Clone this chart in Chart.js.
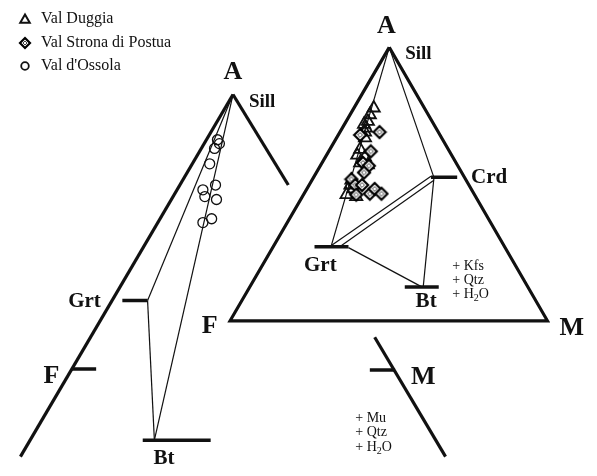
<!DOCTYPE html>
<html>
<head>
<meta charset="utf-8">
<script src="https://cdn.jsdelivr.net/npm/chart.js@4/dist/chart.umd.min.js"></script>
<style>
  html, body { margin: 0; padding: 0; background: #fff; }
  #wrap { width: 597px; height: 476px; }
</style>
</head>
<body>
<div id="wrap"><canvas id="afm" width="597" height="476"></canvas></div>
<script>
// AFM projection diagrams: sample points (plot units,
// y grows downward).
const duggiaX = [376, 372, 370, 366, 368, 367, 367, 362, 359, 367, 362, 370, 353, 352, 355, 348, 358];
const duggiaY = [103, 110, 117, 120, 124, 128, 134, 146, 152, 154, 160, 162, 178, 183, 187, 193, 195];

const stronaX = [382, 362, 373, 365, 371, 366, 353, 357, 364, 372, 377, 384, 358];
const stronaY = [128, 131, 148, 160, 163, 170, 177, 183, 183, 192, 187, 192, 193];

const ossolaX = [215, 217, 212, 207, 213, 200, 202, 214, 200, 209];
const ossolaY = [136, 140, 145, 161, 183, 188, 195, 198, 222, 218];

const legendNames = ["Val Duggia", "Val Strona di Postua", "Val d'Ossola"];

// diagram outlines and tie lines, as vertex lists
const rightTriangle = [[392, 40], [228, 324], [555, 324], [392, 40]];
const leftEdgeA = [[231, 89], [12, 465]];
const leftEdgeM = [[231, 89], [288, 183]];
const lowerEdgeM = [[377, 341], [450, 465]];
const thickBars = [
  [[435, 175], [462, 175]],   // Crd
  [[315, 247], [350, 247]],   // Grt (right)
  [[408, 289], [443, 289]],   // Bt (right)
  [[117, 303], [143, 303]],   // Grt (left)
  [[65, 374], [90, 374]],     // F tick
  [[138, 448], [208, 448]],   // Bt (left)
  [[372, 375], [398, 375]],   // M tick
];
const tieLines = [
  [[392, 40], [332, 247]],
  [[392, 40], [438, 175]],
  [[332, 246], [435, 174]],
  [[341, 247], [438, 178]],
  [[350, 248], [426, 289]],
  [[438, 176], [427, 289]],
  [[231, 89], [143, 303]],
  [[143, 303], [150, 448]],
  [[150, 448], [231, 89]],
];

function pts(xs, ys) {
  return xs.map((x, i) => ({ x: x, y: ys[i] }));
}
function seg(list) {
  return list.map((p) => ({ x: p[0], y: p[1] }));
}

// diamond with a dotted inner diamond, as in the print
function makeDiamond(r) {
  const c = document.createElement("canvas");
  const s = Math.ceil(r * 2 + 4);
  c.width = s; c.height = s;
  const g = c.getContext("2d");
  const m = s / 2;
  g.beginPath();
  g.moveTo(m, m - r); g.lineTo(m + r, m); g.lineTo(m, m + r); g.lineTo(m - r, m); g.closePath();
  g.fillStyle = "#fff"; g.fill();
  g.lineWidth = 2.2; g.strokeStyle = "#000"; g.stroke();
  const q = r * 0.4;
  g.beginPath();
  g.moveTo(m, m - q); g.lineTo(m + q, m); g.lineTo(m, m + q); g.lineTo(m - q, m); g.closePath();
  g.lineWidth = 1; g.strokeStyle = "#444"; g.stroke();
  return c;
}
const diamondImg = makeDiamond(6);
const diamondSmall = makeDiamond(5);

const lineDatasets = [];
function addLine(list, width) {
  lineDatasets.push({
    type: "line",
    data: seg(list),
    borderColor: "#111",
    borderWidth: width,
    pointRadius: 0,
    fill: false,
    tension: 0,
    borderCapStyle: "butt",
    borderJoinStyle: "miter",
  });
}
addLine(rightTriangle, 3.2);
addLine(leftEdgeA, 3.2);
addLine(leftEdgeM, 3.2);
addLine(lowerEdgeM, 3.2);
thickBars.forEach((b) => addLine(b, 3.5));
tieLines.forEach((t) => addLine(t, 1.2));

const labels = [
  { t: "A", x: 389, y: 18, size: 26 },
  { t: "Sill", x: 422, y: 47, size: 19 },
  { t: "Crd", x: 495, y: 175, size: 21 },
  { t: "Grt", x: 321, y: 267, size: 21 },
  { t: "Bt", x: 430, y: 304, size: 21 },
  { t: "F", x: 207, y: 330, size: 26 },
  { t: "M", x: 580, y: 332, size: 26 },
  { t: "A", x: 231, y: 66, size: 26 },
  { t: "Sill", x: 261, y: 97, size: 19 },
  { t: "Grt", x: 78, y: 304, size: 21 },
  { t: "F", x: 44, y: 382, size: 26 },
  { t: "Bt", x: 160, y: 467, size: 21 },
  { t: "M", x: 427, y: 383, size: 26 },
];
const phaseNotes = [
  { x: 457, y: [267, 282, 297], items: ["Kfs", "Qtz", "H2O"] },
  { x: 357, y: [425, 440, 455], items: ["Mu", "Qtz", "H2O"] },
];

const textPlugin = {
  id: "afmText",
  afterDatasetsDraw(chart) {
    const ctx = chart.ctx;
    const xs = chart.scales.x, ys = chart.scales.y;
    ctx.save();
    ctx.fillStyle = "#111";
    ctx.textBaseline = "middle";
    ctx.textAlign = "center";
    labels.forEach((l) => {
      ctx.font = "bold " + l.size + "px 'Liberation Serif'";
      ctx.fillText(l.t, xs.getPixelForValue(l.x), ys.getPixelForValue(l.y));
    });
    ctx.textAlign = "left";
    phaseNotes.forEach((n) => {
      n.items.forEach((it, i) => {
        let px = xs.getPixelForValue(n.x);
        const py = ys.getPixelForValue(n.y[i]);
        ctx.font = "14px 'Liberation Serif'";
        if (it === "H2O") {
          ctx.fillText("+ H", px, py);
          px += ctx.measureText("+ H").width;
          ctx.font = "10px 'Liberation Serif'";
          ctx.fillText("2", px, py + 4);
          px += ctx.measureText("2").width;
          ctx.font = "14px 'Liberation Serif'";
          ctx.fillText("O", px, py);
        } else {
          ctx.fillText("+ " + it, px, py);
        }
      });
    });
    // legend, top left
    const rows = [19, 43, 66];
    ctx.font = "16px 'Liberation Serif'";
    legendNames.forEach((name, i) => {
      const y = rows[i];
      ctx.fillStyle = "#111";
      ctx.fillText(name, 41, y);
      ctx.strokeStyle = "#111";
      if (i === 0) {
        ctx.lineWidth = 2;
        ctx.fillStyle = "#fff";
        Chart.helpers.drawPoint(ctx, { pointStyle: "triangle", radius: 5.5, rotation: 0, borderWidth: 2 }, 25, y + 1);
      } else if (i === 1) {
        ctx.drawImage(diamondSmall, 25 - diamondSmall.width / 2, y - diamondSmall.height / 2);
      } else {
        ctx.lineWidth = 1.8;
        ctx.beginPath();
        ctx.arc(25, y, 3.8, 0, Math.PI * 2);
        ctx.stroke();
      }
    });
    ctx.restore();
  },
};

new Chart(document.getElementById("afm"), {
  type: "scatter",
  data: {
    datasets: [
      {
        label: legendNames[1],
        data: pts(stronaX, stronaY),
        pointStyle: diamondImg,
      },
      {
        label: legendNames[0],
        data: pts(duggiaX, duggiaY),
        pointStyle: "triangle",
        pointRadius: 7,
        borderColor: "#111",
        borderWidth: 1.8,
        backgroundColor: "rgba(255,255,255,0)",
      },
      {
        label: legendNames[2],
        data: pts(ossolaX, ossolaY),
        pointStyle: "circle",
        pointRadius: 5,
        borderColor: "#111",
        borderWidth: 1.3,
        backgroundColor: "rgba(255,255,255,0)",
      },
      ...lineDatasets,
    ],
  },
  options: {
    responsive: false,
    animation: false,
    layout: { padding: 0 },
    plugins: { legend: { display: false }, tooltip: { enabled: false } },
    scales: {
      x: { type: "linear", min: 0, max: 597, display: false },
      y: { type: "linear", min: 0, max: 476, reverse: true, display: false },
    },
  },
  plugins: [textPlugin],
});
</script>
</body>
</html>
